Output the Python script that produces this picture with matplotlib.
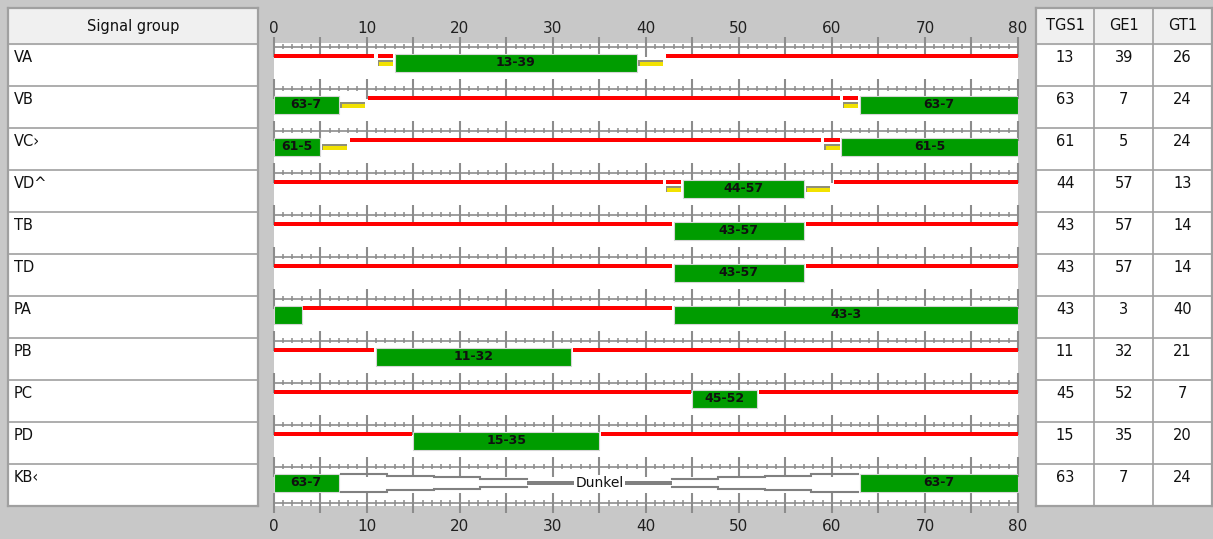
# Signal timing plan: green bands per signal group with TGS1/GE1/GT1 table
import numpy as np
import matplotlib.pyplot as plt
from matplotlib.patches import Rectangle

groups = ['VA', 'VB', 'VC\u203a', 'VD^', 'TB', 'TD', 'PA', 'PB', 'PC', 'PD', 'KB\u2039']
tgs1 = [13, 63, 61, 44, 43, 43, 43, 11, 45, 15, 63]
ge1 = [39, 7, 5, 57, 57, 57, 3, 32, 52, 35, 7]
gt1 = [26, 24, 24, 13, 14, 14, 40, 21, 7, 20, 24]
red_amber = [2, 2, 2, 2, 0, 0, 0, 0, 0, 0, 0]
amber = [3, 3, 3, 3, 0, 0, 0, 0, 0, 0, 0]
dark = [False] * 10 + [True]
table_cols = ['TGS1', 'GE1', 'GT1']
cycle = 80
x_ticks = [0, 10, 20, 30, 40, 50, 60, 70, 80]

W, H = 1213, 539
ROW = 42.0  # px per row
BG = '#c8c8c8'
GRID = '#a0a0a0'
TICK = '#8c8c8c'
GREEN = '#009c00'
RED = '#ff0000'
YELLOW = '#f2e200'

plt.rcParams['font.family'] = ['DejaVu Sans']

fig = plt.figure(figsize=(W / 100, H / 100), dpi=100, facecolor=BG)


def px_axes(x0, y0, x1, y1):
    return fig.add_axes([x0 / W, 1 - y1 / H, (x1 - x0) / W, (y1 - y0) / H])


def wrap(a, b):
    a %= cycle
    b %= cycle
    if a < b:
        return [(a, b)]
    out = [(a, cycle)]
    if b > 0:
        out.append((0, b))
    return out


def shrink(a, b, d=0.17):
    return (a + d if a > 0 else a, b - d if b < cycle else b)


# ---------------- chart ----------------
ax = px_axes(273.7, 43, 1018, 505.5)
ax.set_facecolor('white')
ax.set_xlim(0, cycle)
ax.set_ylim((505.5 - 44) / ROW, (43 - 44) / ROW)
for s in ax.spines.values():
    s.set_visible(False)
ax.set_yticks([])
ax.set_xticks(x_ticks)
ax.tick_params(axis='x', length=0, labelsize=11, pad=9.5, labelcolor='#202020')
top = ax.secondary_xaxis('top')
top.set_xticks(x_ticks)
top.tick_params(axis='x', length=0, labelsize=11, pad=5, labelcolor='#202020')
for s in top.spines.values():
    s.set_visible(False)

# rulers
rulers = [i + 2.5 / ROW for i in range(len(groups))] + [(503 - 44) / ROW]
minor = np.arange(0, cycle + 1)
major = np.arange(0, cycle + 1, 5)
for y in rulers:
    ax.hlines(y, 0, cycle, color=TICK, lw=1.2, zorder=1)
    ax.vlines(minor, y - 2.8 / ROW, y + 2.8 / ROW, color=TICK, lw=1.1, zorder=1)
    ax.vlines(major, y - 10 / ROW, y + 10 / ROW, color=TICK, lw=1.5, zorder=1, clip_on=False)

red_y, red_h = 10.3 / ROW, 3.2 / ROW
grn_y, grn_h = 9.8 / ROW, 18.2 / ROW
yel_y, yel_h = 16.3 / ROW, 5.5 / ROW


def yellow_bar(i, a, b):
    a, b = shrink(a, b)
    ax.barh(i + yel_y, b - a, left=a, height=yel_h, color='#8f8f78', align='edge', zorder=3)
    ax.barh(i + yel_y + 1.4 / ROW, b - a - 0.15, left=a + 0.15, height=yel_h - 1.4 / ROW,
            color=YELLOW, align='edge', zorder=4)


for i, g in enumerate(groups):
    # green phase
    for a, b in wrap(tgs1[i], ge1[i]):
        ax.barh(i + grn_y, b - a, left=a, height=grn_h, color=GREEN,
                edgecolor='#d6d6d6', lw=0.8, align='edge', zorder=3)
        if b - a > 4:
            ax.text((a + b) / 2, i + grn_y + grn_h / 2, '%d-%d' % (tgs1[i], ge1[i]),
                    ha='center', va='center', fontsize=9, fontweight='bold',
                    color='#101010', zorder=5)
    # red-amber before green
    if red_amber[i]:
        for a, b in wrap(tgs1[i] - red_amber[i], tgs1[i]):
            a2, b2 = shrink(a, b)
            ax.barh(i + red_y, b2 - a2, left=a2, height=red_h, color=RED, align='edge', zorder=3)
            yellow_bar(i, a, b)
    # amber after green
    if amber[i]:
        for a, b in wrap(ge1[i], ge1[i] + amber[i]):
            yellow_bar(i, a, b)
    off_a = ge1[i] + amber[i]
    off_b = tgs1[i] - red_amber[i]
    if not dark[i]:
        for a, b in wrap(off_a, off_b):
            a, b = shrink(a, b)
            ax.barh(i + red_y, b - a, left=a, height=red_h, color=RED, align='edge', zorder=3)
    else:
        # dark (Dunkel) phase: stepped funnel towards a solid bar
        c = i + grn_y + grn_h / 2
        halves = [9.0, 7.4, 5.7, 4.0]
        step = 5
        a, b = off_a + 0.2, off_b - 0.2
        for sgn in (-1, 1):
            xs_l, ys_l, xs_r, ys_r = [], [], [], []
            for k, h in enumerate(halves):
                xs_l += [a + step * k, a + step * (k + 1)]
                ys_l += [c + sgn * h / ROW] * 2
                xs_r += [b - step * k, b - step * (k + 1)]
                ys_r += [c + sgn * h / ROW] * 2
            ax.plot(xs_l, ys_l, color='#808080', lw=1.5, zorder=3, solid_joinstyle='miter')
            ax.plot(xs_r, ys_r, color='#808080', lw=1.5, zorder=3, solid_joinstyle='miter')
        sa = a + step * len(halves)
        sb = b - step * len(halves)
        ax.barh(c - 2.4 / ROW, sb - sa, left=sa, height=4.8 / ROW, color='#808080',
                align='edge', zorder=3)
        ax.text((off_a + off_b) / 2, c, 'Dunkel', ha='center', va='center', fontsize=10,
                color='#101010', zorder=5,
                bbox=dict(facecolor='white', edgecolor='none', pad=1.0))

# ---------------- left table ----------------
lt = px_axes(8, 8, 258, 506)
lt.set_xlim(0, 250)
lt.set_ylim(len(groups), (8 - 44) / ROW)
lt.set_xticks([])
lt.set_yticks([])
lt.set_facecolor('white')
lt.add_patch(Rectangle((0, (8 - 44) / ROW), 250, (44 - 8) / ROW, color='#f0f0f0', zorder=0))
lt.hlines(range(len(groups)), 0, 250, color=GRID, lw=1.2)
for s in lt.spines.values():
    s.set_color(GRID)
    s.set_linewidth(1.6)
lt.text(125, (26 - 44) / ROW, 'Signal group', ha='center', va='center', fontsize=10.5,
        color='#101010')
for i, g in enumerate(groups):
    lt.text(6, i + 14 / ROW, g, ha='left', va='center', fontsize=10.5, color='#101010')

# ---------------- right table ----------------
rt = px_axes(1035.7, 8, 1212, 506)
rt.set_xlim(0, 3)
rt.set_ylim(len(groups), (8 - 44) / ROW)
rt.set_xticks([])
rt.set_yticks([])
rt.set_facecolor('white')
rt.add_patch(Rectangle((0, (8 - 44) / ROW), 3, (44 - 8) / ROW, color='#f0f0f0', zorder=0))
rt.hlines(range(len(groups)), 0, 3, color=GRID, lw=1.2)
rt.vlines([1, 2], (8 - 44) / ROW, len(groups), color=GRID, lw=1.2)
for s in rt.spines.values():
    s.set_color(GRID)
    s.set_linewidth(1.6)
for j, col in enumerate(table_cols):
    rt.text(j + 0.5, (26 - 44) / ROW, col, ha='center', va='center', fontsize=10.5,
            color='#101010')
for i in range(len(groups)):
    for j, vals in enumerate([tgs1, ge1, gt1]):
        rt.text(j + 0.5, i + 14 / ROW, str(vals[i]), ha='center', va='center',
                fontsize=10.5, color='#101010')

fig.savefig('out.png', dpi=100, facecolor=BG)
